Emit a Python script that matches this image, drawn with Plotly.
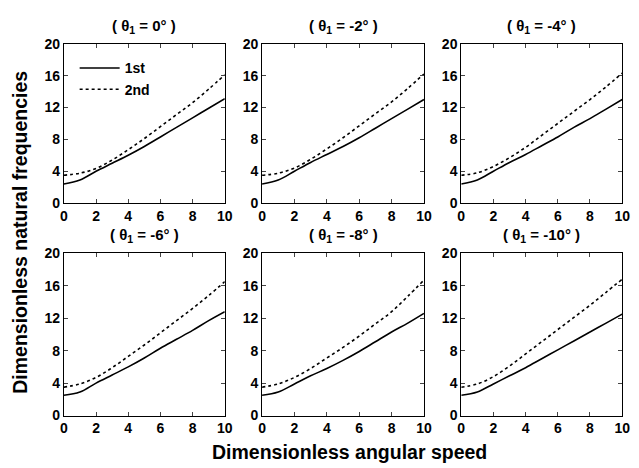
import plotly.graph_objects as go
from plotly.subplots import make_subplots

speed = [0, 1, 2, 3, 4, 5, 6, 7, 8, 9, 10]
panel_titles = ["( θ<sub>1</sub> = 0° )", "( θ<sub>1</sub> = -2° )", "( θ<sub>1</sub> = -4° )",
                "( θ<sub>1</sub> = -6° )", "( θ<sub>1</sub> = -8° )", "( θ<sub>1</sub> = -10° )"]
first_0 = [2.4, 2.9, 4.0, 5.0, 6.0, 7.1, 8.3, 9.5, 10.7, 11.9, 13.1]
second_0 = [3.5, 3.75, 4.35, 5.4, 6.7, 8.1, 9.6, 11.1, 12.6, 14.3, 16.1]
first_m2 = [2.4, 2.9, 4.0, 5.1, 6.1, 7.1, 8.2, 9.4, 10.6, 11.8, 13.0]
second_m2 = [3.5, 3.75, 4.4, 5.5, 6.8, 8.2, 9.7, 11.2, 12.7, 14.4, 16.2]
first_m4 = [2.4, 2.9, 4.0, 5.1, 6.1, 7.2, 8.3, 9.5, 10.6, 11.8, 13.0]
second_m4 = [3.5, 3.8, 4.6, 5.7, 7.0, 8.5, 10.0, 11.5, 13.0, 14.6, 16.3]
first_m6 = [2.5, 2.9, 4.0, 5.0, 6.0, 7.1, 8.3, 9.4, 10.5, 11.7, 12.8]
second_m6 = [3.5, 3.9, 4.7, 5.9, 7.3, 8.7, 10.2, 11.7, 13.2, 14.8, 16.5]
first_m8 = [2.5, 2.9, 3.9, 4.9, 5.8, 6.8, 7.9, 9.1, 10.3, 11.4, 12.6]
second_m8 = [3.5, 3.9, 4.7, 5.8, 7.1, 8.4, 9.8, 11.3, 12.8, 14.7, 16.7]
first_m10 = [2.5, 2.9, 3.9, 4.9, 5.9, 7.0, 8.1, 9.2, 10.3, 11.4, 12.5]
second_m10 = [3.5, 3.9, 4.8, 6.1, 7.6, 9.1, 10.6, 12.1, 13.6, 15.2, 16.8]

firsts = [first_0, first_m2, first_m4, first_m6, first_m8, first_m10]
seconds = [second_0, second_m2, second_m4, second_m6, second_m8, second_m10]

W, H = 639, 468
xpix = [(61, 225), (263, 428), (466, 630)]
ypix = [(37, 202), (254, 422)]

fig = make_subplots(rows=2, cols=3)
font = "Liberation Sans, Arial, sans-serif"

for i in range(6):
    r, c = i // 3 + 1, i % 3 + 1
    fig.add_trace(go.Scatter(x=speed, y=firsts[i], mode="lines", name="1st",
                             line=dict(color="black", width=1.6, shape="spline"),
                             showlegend=(i == 0)), row=r, col=c)
    fig.add_trace(go.Scatter(x=speed, y=seconds[i], mode="lines", name="2nd",
                             line=dict(color="black", width=1.6, dash="dot", shape="spline"),
                             showlegend=(i == 0)), row=r, col=c)

tickfont = dict(family=font, size=14, color="black", weight="bold")
for i in range(6):
    r, c = i // 3, i % 3
    xd = [xpix[c][0] / W, xpix[c][1] / W]
    yd = [1 - ypix[r][1] / H, 1 - ypix[r][0] / H]
    suffix = "" if i == 0 else str(i + 1)
    fig.layout["xaxis" + suffix].update(
        domain=xd, range=[0, 10], tickvals=[0, 2, 4, 6, 8, 10], ticks="inside",
        ticklen=4, showline=True, linecolor="black", linewidth=1, mirror="ticks",
        showgrid=False, zeroline=False, tickfont=tickfont, ticklabeloverflow="allow")
    fig.layout["yaxis" + suffix].update(
        domain=yd, range=[0, 20], tickvals=[0, 4, 8, 12, 16, 20], ticks="inside",
        ticklen=4, showline=True, linecolor="black", linewidth=1, mirror="ticks",
        showgrid=False, zeroline=False, tickfont=tickfont, ticklabeloverflow="allow")
    fig.add_annotation(text=panel_titles[i], xref="paper", yref="paper",
                       x=(xpix[c][0] + xpix[c][1]) / 2 / W, y=1 - (ypix[r][0] - 18) / H,
                       xanchor="center", yanchor="middle", showarrow=False,
                       font=dict(family=font, size=15, color="black", weight="bold"))

fig.add_annotation(text="Dimensionless angular speed", xref="paper", yref="paper",
                   x=352 / W, y=1 - 460 / H, xanchor="center", yanchor="middle", showarrow=False,
                   font=dict(family=font, size=19.5, color="black", weight="bold"))
fig.add_annotation(text="Dimensionless natural frequencies", xref="paper", yref="paper",
                   x=16 / W, y=1 - 232 / H, xanchor="center", yanchor="middle", showarrow=False,
                   textangle=-90, font=dict(family=font, size=19.5, color="black", weight="bold"))

fig.update_layout(
    width=W, height=H, margin=dict(l=0, r=0, t=0, b=0),
    paper_bgcolor="white", plot_bgcolor="white",
    legend=dict(x=72 / W, y=1 - 46 / H, xanchor="left", yanchor="top",
                bgcolor="rgba(0,0,0,0)", font=dict(family=font, size=14, color="black", weight="bold"),
                tracegroupgap=0, itemwidth=40),
)

fig.write_html("out.html", config={"displayModeBar": False},
               post_script="document.body.style.margin='0';document.body.style.overflow='hidden';")
